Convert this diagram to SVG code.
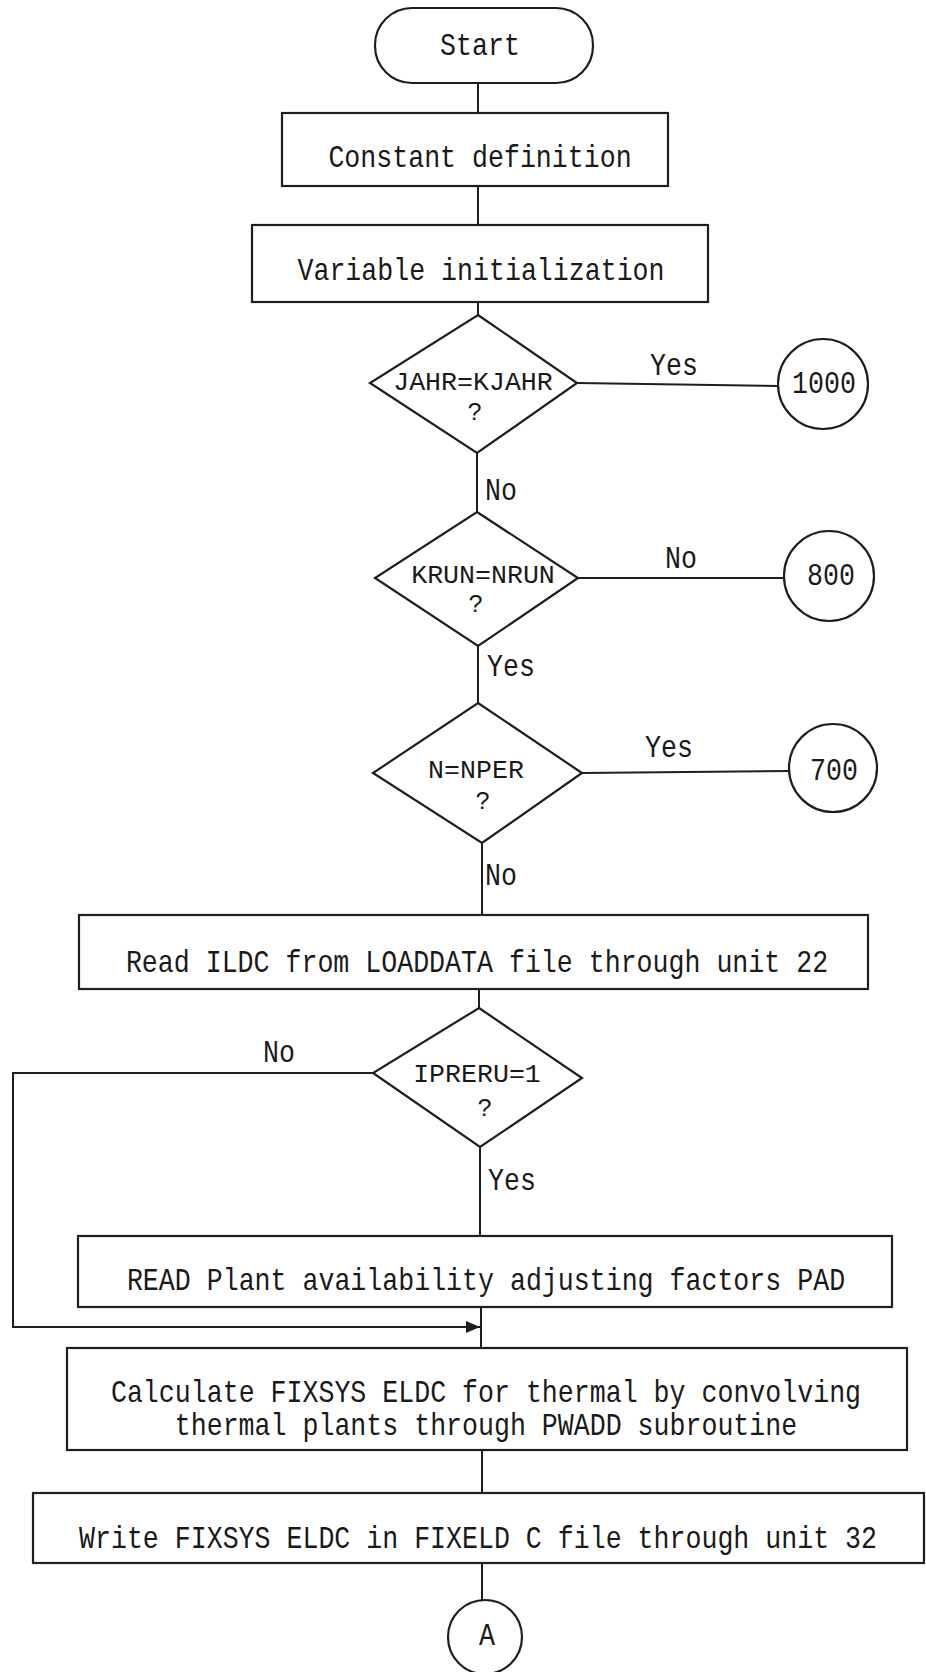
<svg xmlns="http://www.w3.org/2000/svg" width="926" height="1672" viewBox="0 0 926 1672">
<style>
  .shape { fill: none; stroke: #1e1e1e; stroke-width: 2.2; stroke-linejoin: miter; }
  .conn { fill: none; stroke: #1e1e1e; stroke-width: 2; }
  .t { font-family: "Liberation Mono", "DejaVu Sans Mono", monospace; font-size: 26.6px; fill: #1a1a1a; text-anchor: middle; }
  .q { font-family: "Liberation Mono", "DejaVu Sans Mono", monospace; font-size: 25px; fill: #1a1a1a; text-anchor: middle; }
  .l { font-family: "Liberation Mono", "DejaVu Sans Mono", monospace; font-size: 26.6px; fill: #1a1a1a; text-anchor: start; }
</style>
<defs>
  <marker id="arrow" viewBox="0 0 14 12" refX="14" refY="6" markerWidth="14" markerHeight="12" markerUnits="userSpaceOnUse" orient="auto">
    <path d="M0,0 L14,6 L0,12 Z" fill="#1e1e1e"/>
  </marker>
</defs>
<rect x="0" y="0" width="926" height="1672" fill="#ffffff"/>

<g id="connectors">
  <line class="conn" x1="478" y1="83" x2="478" y2="113"/>
  <line class="conn" x1="478" y1="186" x2="478" y2="225"/>
  <line class="conn" x1="478" y1="302" x2="478" y2="315"/>
  <line class="conn" x1="577" y1="383" x2="778" y2="386"/>
  <line class="conn" x1="477" y1="453" x2="477" y2="512"/>
  <line class="conn" x1="578" y1="578" x2="784" y2="578"/>
  <line class="conn" x1="478" y1="646" x2="478" y2="703"/>
  <line class="conn" x1="582" y1="773" x2="789" y2="771"/>
  <line class="conn" x1="482" y1="843" x2="482" y2="915"/>
  <line class="conn" x1="479" y1="989" x2="479" y2="1008"/>
  <line class="conn" x1="480" y1="1147" x2="480" y2="1236"/>
  <path class="conn" d="M373,1073 L13,1073 L13,1327 L480,1327" marker-end="url(#arrow)"/>
  <line class="conn" x1="481" y1="1307" x2="481" y2="1348"/>
  <line class="conn" x1="482" y1="1450" x2="482" y2="1493"/>
  <line class="conn" x1="482" y1="1563" x2="482" y2="1600"/>
  <text class="l" transform="translate(650,375) scale(1,1.2)">Yes</text>
  <text class="l" transform="translate(485,500) scale(1,1.2)">No</text>
  <text class="l" transform="translate(665,568) scale(1,1.2)">No</text>
  <text class="l" transform="translate(487,676) scale(1,1.2)">Yes</text>
  <text class="l" transform="translate(645,757) scale(1,1.2)">Yes</text>
  <text class="l" transform="translate(485,885) scale(1,1.2)">No</text>
  <text class="l" transform="translate(263,1062) scale(1,1.2)">No</text>
  <text class="l" transform="translate(488,1190) scale(1,1.2)">Yes</text>
</g>

<g id="start">
  <rect class="shape" x="375" y="8" width="218" height="75" rx="37" ry="37"/>
  <text class="t" transform="translate(480,55) scale(1,1.2)">Start</text>
</g>

<g id="constant-definition">
  <rect class="shape" x="282" y="113" width="386" height="73"/>
  <text class="t" transform="translate(480,167) scale(1,1.2)">Constant definition</text>
</g>

<g id="variable-initialization">
  <rect class="shape" x="252" y="225" width="456" height="77"/>
  <text class="t" transform="translate(481,280) scale(1,1.2)">Variable initialization</text>
</g>

<g id="decision-jahr">
  <polygon class="shape" points="478,315 577,383 477,453 370,383"/>
  <text class="t" x="473" y="390">JAHR=KJAHR</text>
  <text class="q" x="475" y="420">?</text>
</g>

<g id="connector-1000">
  <circle class="shape" cx="823" cy="384" r="45"/>
  <text class="t" transform="translate(824,393) scale(1,1.2)">1000</text>
</g>

<g id="decision-krun">
  <polygon class="shape" points="477,512 578,578 478,646 375,578"/>
  <text class="t" x="483" y="583">KRUN=NRUN</text>
  <text class="q" x="476" y="612">?</text>
</g>

<g id="connector-800">
  <circle class="shape" cx="829" cy="576" r="45"/>
  <text class="t" transform="translate(831,585) scale(1,1.2)">800</text>
</g>

<g id="decision-nper">
  <polygon class="shape" points="478,703 582,773 482,843 373,773"/>
  <text class="t" x="476" y="778">N=NPER</text>
  <text class="q" x="483" y="809">?</text>
</g>

<g id="connector-700">
  <circle class="shape" cx="833" cy="768" r="44"/>
  <text class="t" transform="translate(834,780) scale(1,1.2)">700</text>
</g>

<g id="read-ildc">
  <rect class="shape" x="79" y="915" width="789" height="74"/>
  <text class="t" transform="translate(477,972) scale(1,1.2)">Read ILDC from LOADDATA file through unit 22</text>
</g>

<g id="decision-ipreru">
  <polygon class="shape" points="479,1008 582,1078 480,1147 373,1073"/>
  <text class="t" x="477" y="1082">IPRERU=1</text>
  <text class="q" x="485" y="1116">?</text>
</g>

<g id="read-pad">
  <rect class="shape" x="78" y="1236" width="814" height="71"/>
  <text class="t" transform="translate(486,1290) scale(1,1.2)">READ Plant availability adjusting factors PAD</text>
</g>

<g id="calculate-fixsys">
  <rect class="shape" x="67" y="1348" width="840" height="102"/>
  <text class="t" transform="translate(486,1402) scale(1,1.2)">Calculate FIXSYS ELDC for thermal by convolving</text>
  <text class="t" transform="translate(486,1435) scale(1,1.2)">thermal plants through PWADD subroutine</text>
</g>

<g id="write-fixsys">
  <rect class="shape" x="33" y="1493" width="891" height="70"/>
  <text class="t" transform="translate(478,1548) scale(1,1.2)">Write FIXSYS ELDC in FIXELD C file through unit 32</text>
</g>

<g id="connector-a">
  <circle class="shape" cx="485" cy="1637" r="37"/>
  <text class="t" transform="translate(487,1645) scale(1,1.2)">A</text>
</g>
</svg>
